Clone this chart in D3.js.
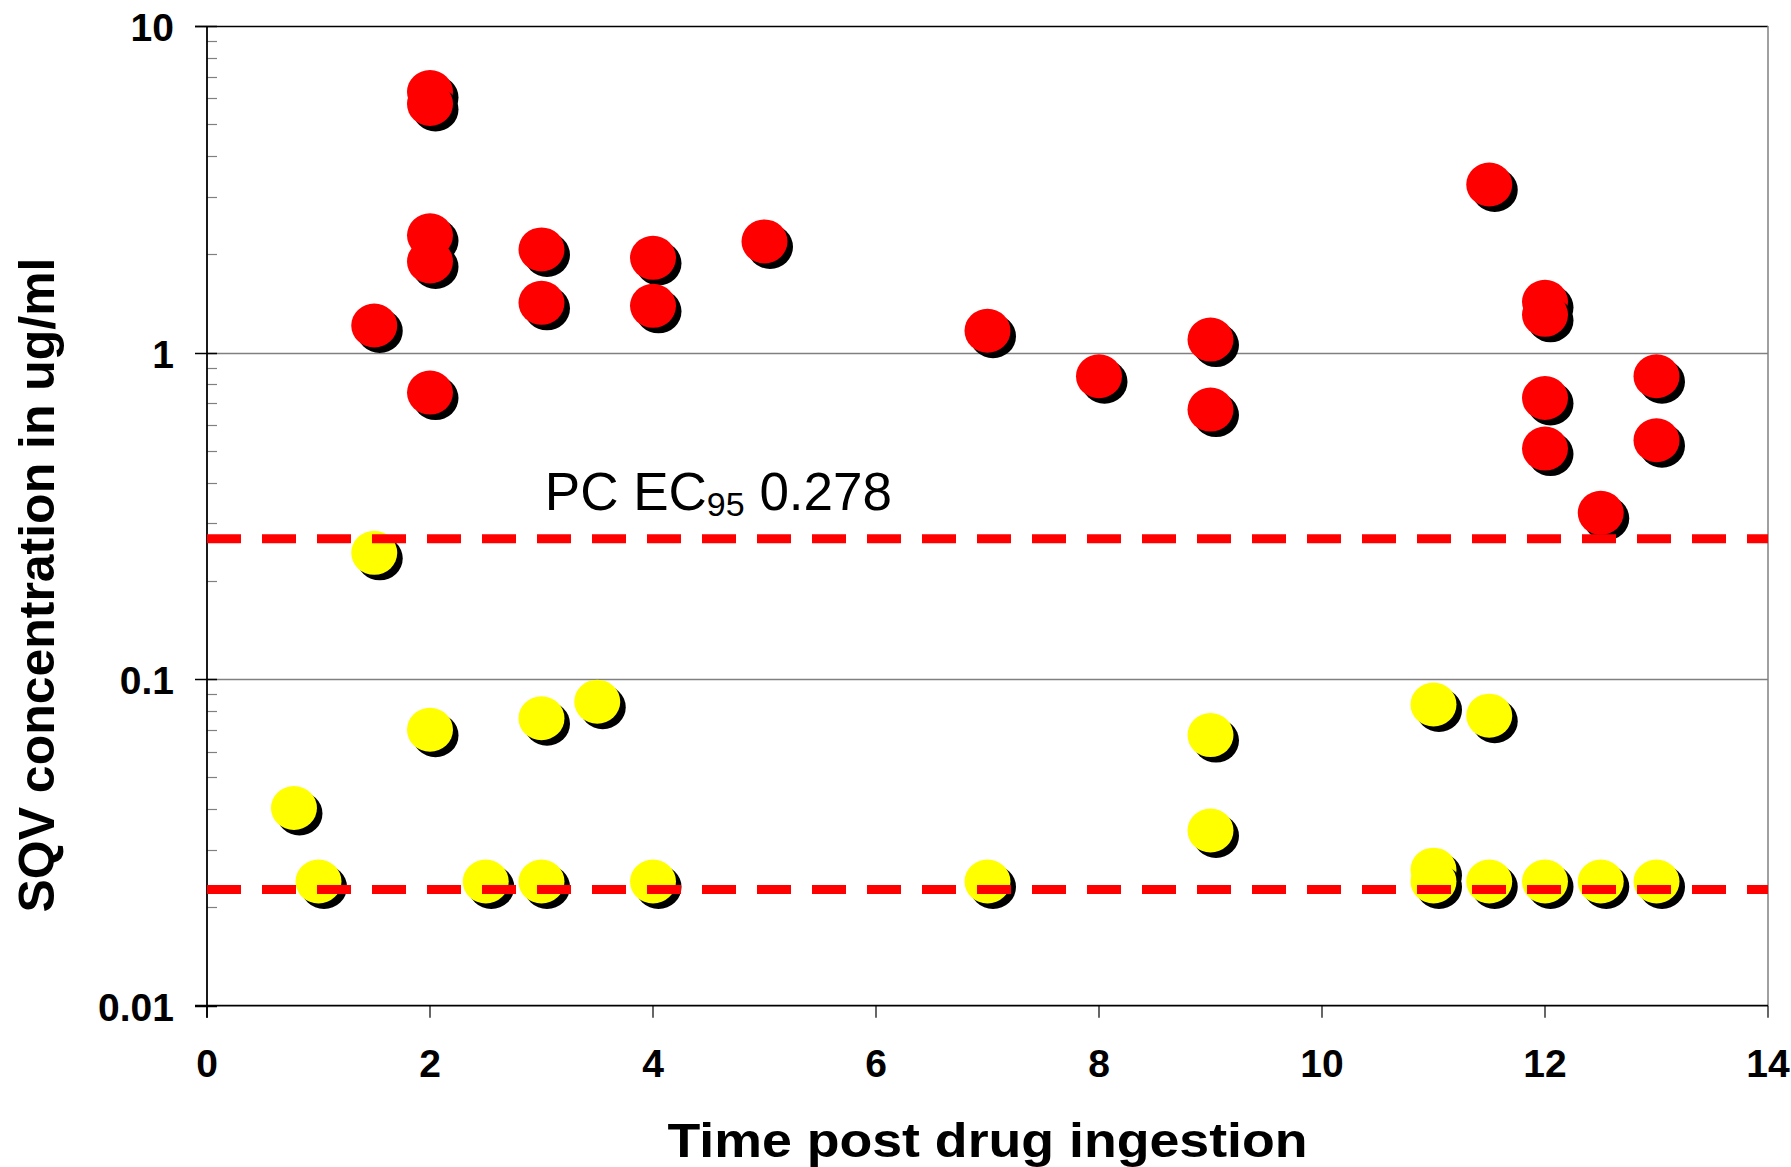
<!DOCTYPE html>
<html><head><meta charset="utf-8">
<script src="https://cdn.jsdelivr.net/npm/d3@7"></script>
<style>body{margin:0;background:#fff}svg{display:block}</style>
</head><body>
<svg id="chart" width="1791" height="1167"></svg>
<script>
// ---- data ----
const redTime = [1.5, 2, 2, 2, 2, 2, 3, 3, 4, 4, 5, 7, 8, 9, 9, 11.5, 12, 12, 12, 12, 12.5, 13, 13];
const redConc = [1.21, 6.28, 5.77, 2.285, 1.90, 0.754, 2.07, 1.42, 1.95, 1.39, 2.19, 1.166, 0.846, 1.096, 0.669, 3.27, 1.43, 1.305, 0.726, 0.508, 0.323, 0.846, 0.539];
const yellowTime = [0.78, 1, 1.5, 2, 2.5, 3, 3, 3.5, 4, 7, 9, 9, 11, 11, 11, 11.5, 11.5, 12, 12.5, 13];
const yellowConc = [0.0403, 0.0240, 0.2436, 0.070, 0.0240, 0.0759, 0.0240, 0.0853, 0.0240, 0.0240, 0.0674, 0.0344, 0.0836, 0.0261, 0.0240, 0.0773, 0.0240, 0.0240, 0.0240, 0.0240];
const thresholds = [0.269, 0.0227];
const xTicks = [0, 2, 4, 6, 8, 10, 12, 14];
const yTicks = [0.01, 0.1, 1, 10];
const yTickLabels = ["0.01", "0.1", "1", "10"];
const xTitle = "Time post drug ingestion";
const yTitle = "SQV concentration in ug/ml";
const annotation = {main: "PC EC", sub: "95", tail: " 0.278"};

// ---- scales ----
const svg = d3.select('#chart');
const W = 1791, H = 1167;
svg.append('rect').attr('width', W).attr('height', H).attr('fill', '#fff');
const x = d3.scaleLinear().domain([0, 14]).range([207, 1768]);
const y = d3.scaleLog().domain([0.01, 10]).range([1005.7, 26]);
const font = "'Liberation Sans', Arial, Helvetica, sans-serif";

// minor ticks
const minor = [];
[0.01, 0.1, 1].forEach(d => { for (let k = 2; k <= 9; k++) minor.push(d * k); });
svg.append('g').selectAll('line').data(minor).join('line')
  .attr('x1', x(0)).attr('x2', x(0) + 10)
  .attr('y1', d => Math.round(y(d)) + 0.5).attr('y2', d => Math.round(y(d)) + 0.5)
  .attr('stroke', '#808080').attr('stroke-width', 1.2);

// gridlines (1, 0.1)
svg.append('g').selectAll('line').data([0.1, 1]).join('line')
  .attr('x1', x(0)).attr('x2', x(14))
  .attr('y1', d => Math.round(y(d)) + 0.5).attr('y2', d => Math.round(y(d)) + 0.5)
  .attr('stroke', '#808080').attr('stroke-width', 1.5);

// top border (10) and right border
svg.append('line').attr('x1', x(0) - 12).attr('x2', x(14))
  .attr('y1', Math.round(y(10)) + 0.5).attr('y2', Math.round(y(10)) + 0.5)
  .attr('stroke', '#000').attr('stroke-width', 1.5);
svg.append('line').attr('x1', x(14)).attr('x2', x(14))
  .attr('y1', y(10)).attr('y2', y(0.01))
  .attr('stroke', '#808080').attr('stroke-width', 1.5);

// major y ticks
svg.append('g').selectAll('line').data(yTicks).join('line')
  .attr('x1', x(0) - 12).attr('x2', x(0) + 10)
  .attr('y1', d => Math.round(y(d)) + 0.5).attr('y2', d => Math.round(y(d)) + 0.5)
  .attr('stroke', '#000').attr('stroke-width', 1.5);

// x axis line and ticks
svg.append('line').attr('x1', x(0) - 12).attr('x2', x(14))
  .attr('y1', y(0.01)).attr('y2', y(0.01)).attr('stroke', '#000').attr('stroke-width', 1.8);
svg.append('g').selectAll('line').data(xTicks).join('line')
  .attr('x1', d => x(d)).attr('x2', d => x(d))
  .attr('y1', y(0.01)).attr('y2', y(0.01) + 12)
  .attr('stroke', '#000').attr('stroke-width', 1.2);
// y axis line
svg.append('line').attr('x1', x(0)).attr('x2', x(0))
  .attr('y1', y(10)).attr('y2', y(0.01) + 12).attr('stroke', '#000').attr('stroke-width', 1.8);

// tick labels
svg.append('g').selectAll('text').data(yTicks).join('text')
  .attr('x', x(0) - 33).attr('y', d => y(d) + 15)
  .attr('text-anchor', 'end').attr('font-family', font).attr('font-weight', 'bold')
  .attr('font-size', 39).attr('fill', '#000')
  .text((d, i) => yTickLabels[i]);
svg.append('g').selectAll('text').data(xTicks).join('text')
  .attr('x', d => x(d)).attr('y', y(0.01) + 71.5)
  .attr('text-anchor', 'middle').attr('font-family', font).attr('font-weight', 'bold')
  .attr('font-size', 39).attr('fill', '#000')
  .text(d => d);

// axis titles
svg.append('text').attr('x', (x(0) + x(14)) / 2).attr('y', 1157)
  .attr('text-anchor', 'middle').attr('font-family', font).attr('font-weight', 'bold')
  .attr('font-size', 48).attr('textLength', 640).attr('lengthAdjust', 'spacingAndGlyphs')
  .text(xTitle);
svg.append('text').attr('transform', 'translate(54,585) rotate(-90)')
  .attr('text-anchor', 'middle').attr('font-family', font).attr('font-weight', 'bold')
  .attr('font-size', 50).attr('textLength', 655).attr('lengthAdjust', 'spacingAndGlyphs')
  .text(yTitle);

// points
function drawSeries(times, concs, color) {
  const pts = times.map((t, i) => ({t, c: concs[i]}));
  const g = svg.append('g');
  pts.forEach(p => {
    g.append('ellipse').attr('cx', x(p.t) + 5.5).attr('cy', y(p.c) + 5.5)
      .attr('rx', 23).attr('ry', 22).attr('fill', '#000');
    g.append('ellipse').attr('cx', x(p.t)).attr('cy', y(p.c))
      .attr('rx', 23).attr('ry', 22).attr('fill', color);
  });
}
drawSeries(redTime, redConc, '#ff0000');
drawSeries(yellowTime, yellowConc, '#ffff00');

// threshold dashed lines
svg.append('g').selectAll('line').data(thresholds).join('line')
  .attr('x1', x(0)).attr('x2', x(14))
  .attr('y1', d => y(d)).attr('y2', d => y(d))
  .attr('stroke', '#ff0000').attr('stroke-width', 9)
  .attr('stroke-dasharray', '34,21');

// annotation
const ann = svg.append('text').attr('x', x(3.03)).attr('y', y(thresholds[0]) - 29)
  .attr('font-family', font).attr('font-size', 53).attr('fill', '#000');
ann.append('tspan').text(annotation.main);
ann.append('tspan').attr('font-size', 34).attr('dy', 6).text(annotation.sub);
ann.append('tspan').attr('dy', -6).text(annotation.tail);
</script>
</body></html>
